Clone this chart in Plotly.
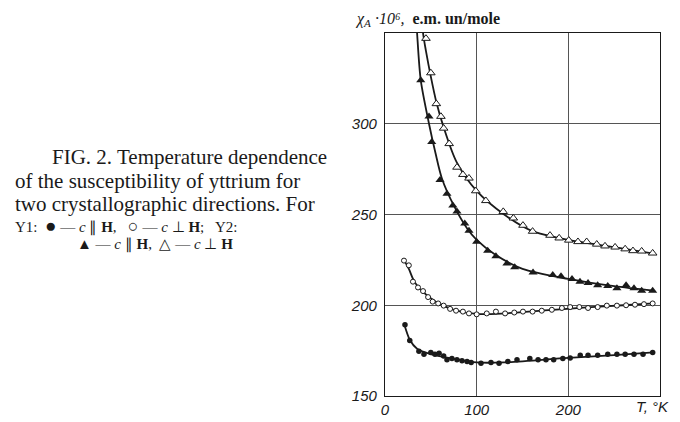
import plotly.graph_objects as go

# ---- data ----
# Y1, c || H (filled circles)
y1_par_T = [21.8, 27, 37, 42.5, 50, 54.5, 59, 64, 67.6, 73, 78.5, 84, 89.5, 94, 104.7, 115.6, 124.4,
            134, 144, 158, 167, 175.6, 184, 194, 202, 213, 221.5, 232, 243, 253, 262, 271.6, 281.5, 292]
y1_par_chi = [189.3, 180.6, 174.6, 173, 174, 173, 173.5, 172, 170, 170.6, 170, 169.4, 169, 168.4, 168, 168.4, 168,
              169, 170, 170.6, 170, 170, 170, 170.6, 171, 172.5, 172.5, 172.5, 173, 173, 173, 173, 173, 174]
# Y1, c perp H (open circles)
y1_perp_T = [20.7, 26, 30.5, 36, 41.5, 47, 52, 58, 64, 71, 77.5, 85, 91.6, 100, 111, 121, 131, 141, 150.5,
             161, 171, 182, 193, 202, 212, 221.5, 232, 242, 253, 263, 272.7, 282.5, 292]
y1_perp_chi = [224.6, 222, 213, 209.8, 207.8, 204.5, 202, 201, 199.8, 198, 197, 196.5, 195.5, 195, 195.5, 196.5,
               195.5, 196, 196.5, 196.5, 197, 197.5, 198.5, 199, 199, 198.5, 199, 199.8, 199.8, 200, 200.3, 200.6, 201]
# Y2, c || H (filled triangles)
y2_par_T = [39, 48, 51, 60, 67.6, 74, 78.5, 87, 91.6, 100, 112, 121, 133, 141.5, 161.5, 183, 192, 204,
            212.7, 221.5, 232, 243, 253, 263, 271.6, 280, 292]
y2_par_chi = [324, 304, 290, 269, 261.5, 255, 251.6, 245, 241, 235, 230, 227, 223, 221, 218, 216.7, 216, 214.5,
              212.9, 212.3, 211, 210.6, 209.4, 211, 209.4, 208, 208]
# Y2, c perp H (open triangles)
y2_perp_T = [44.7, 50, 56, 61, 64, 70, 78.5, 85, 91.6, 99, 110, 129, 140, 150.5, 161, 180, 190, 200.5,
             210.5, 220, 231, 240, 251, 262, 270.5, 280, 292]
y2_perp_chi = [347, 328, 311, 304, 297.5, 289, 276, 272, 270, 263, 257.6, 251.6, 248, 244, 240.7, 238.5, 237,
               235.8, 235, 235, 233.6, 232.6, 232, 231, 230, 229.8, 228.7]

# hand-drawn smooth curves
c1_T = [21, 27, 35, 50, 75, 100, 130, 200, 250, 293]
c1_chi = [189.5, 181, 176, 173, 170.5, 168.5, 168.5, 171, 172.5, 174]
c2_T = [20.7, 26, 32, 40, 55, 75, 100, 130, 170, 220, 260, 293]
c2_chi = [225, 220, 213, 208, 202, 197.5, 195.2, 195.5, 197, 198.8, 200, 201]
c3_T = [33.5, 35, 39, 48, 55, 62, 75, 90, 100, 120, 150, 200, 250, 293]
c3_chi = [362, 350, 324, 300, 284, 270, 255, 242, 236, 228, 220, 214.5, 210.5, 208]
c4_T = [40.5, 41.5, 44.7, 50, 56, 64, 78, 100, 130, 160, 200, 250, 293]
c4_chi = [360, 350, 340, 326, 312, 298, 279, 263, 250, 241, 236, 232, 228.5]

x_tickvals = [0, 100, 200, 300]
x_ticktext = ["0", "100", "200", ""]
x_unit_label = "T, °K"
y_tickvals = [150, 200, 250, 300]
y_ticktext = ["150", "200", "250", "300"]

INK = "#1a1a1a"
W, H = 680, 422
OFF = 8  # page body margin offset
# target plot area in window pixels: x 385..660, y 33..399
L = 385 - OFF
T = 33 - OFF
R = W - (660 - OFF)
B = H - (399 - OFF)
PW, PH = W - L - R, H - T - B

def px(x):
    return (x - OFF - L) / PW

def py(y):
    return (H - B - (y - OFF)) / PH

fig = go.Figure()
for cx, cy in [(c1_T, c1_chi), (c2_T, c2_chi), (c3_T, c3_chi), (c4_T, c4_chi)]:
    fig.add_trace(go.Scatter(x=cx, y=cy, mode="lines", line=dict(color=INK, width=1.8, shape="spline", smoothing=0.8),
                             hoverinfo="skip", showlegend=False))

fig.add_trace(go.Scatter(x=y1_par_T, y=y1_par_chi, mode="markers",
                         marker=dict(symbol="circle", size=5.5, color=INK), showlegend=False))
fig.add_trace(go.Scatter(x=y1_perp_T, y=y1_perp_chi, mode="markers",
                         marker=dict(symbol="circle", size=5, color="white", line=dict(color=INK, width=1)), showlegend=False))
fig.add_trace(go.Scatter(x=y2_par_T, y=y2_par_chi, mode="markers",
                         marker=dict(symbol="triangle-up", size=8, color=INK), showlegend=False))
fig.add_trace(go.Scatter(x=y2_perp_T, y=y2_perp_chi, mode="markers",
                         marker=dict(symbol="triangle-up", size=7.5, color="white", line=dict(color=INK, width=1)), showlegend=False))

tickfont = dict(family="Liberation Sans", size=15, color=INK, style="italic")
fig.update_xaxes(range=[0, 300], tickvals=x_tickvals, ticktext=x_ticktext,
                 showgrid=True, gridcolor="#555",
                 gridwidth=1, showline=True, linecolor=INK, linewidth=1.3, mirror=True, ticks="", zeroline=False,
                 tickfont=tickfont)
fig.update_yaxes(range=[150, 350], tickvals=y_tickvals, ticktext=y_ticktext,
                 showgrid=True, gridcolor="#555",
                 gridwidth=1, showline=True, linecolor=INK, linewidth=1.3, mirror=True, ticks="", zeroline=False,
                 tickfont=tickfont, ticklabelstandoff=4)

annots = []
annots.append(dict(x=px(652), y=py(410), xref="paper", yref="paper", xanchor="center", yanchor="middle",
                   showarrow=False, text=x_unit_label, font=tickfont))
annots.append(dict(x=px(353), y=py(19), xref="paper", yref="paper", xanchor="left", yanchor="middle", showarrow=False,
                   text="<i>χ<sub>A</sub> ·10⁶,</i>  <b>e.m. un/mole</b>",
                   font=dict(family="Liberation Serif", size=16, color=INK)))
serif = dict(family="Liberation Serif", size=21, color=INK)
cap_lines = [(50, 158, "FIG. 2. Temperature dependence"),
             (13, 182, "of the susceptibility of yttrium for"),
             (13, 205, "two crystallographic directions. For")]
for x0, y0, t in cap_lines:
    annots.append(dict(x=px(x0), y=py(y0), xref="paper", yref="paper", xanchor="left", yanchor="middle",
                       showarrow=False, text=t, font=serif))
small = dict(family="Liberation Serif", size=15, color=INK)
annots.append(dict(x=px(13), y=py(227), xref="paper", yref="paper", xanchor="left", yanchor="middle", showarrow=False,
                   text="Y1:  <span style='font-size:19px'>●</span> — <i>c</i> ∥ <b>H</b>,   <span style='font-size:18px'>○</span> — <i>c</i> ⊥ <b>H</b>;   Y2:",
                   font=small))
annots.append(dict(x=px(75), y=py(246), xref="paper", yref="paper", xanchor="left", yanchor="middle", showarrow=False,
                   text="▲ — <i>c</i> ∥ <b>H</b>,  △ — <i>c</i> ⊥ <b>H</b>", font=small))

fig.update_layout(width=W, height=H, margin=dict(l=L, r=R, t=T, b=B), paper_bgcolor="white", plot_bgcolor="white",
                  annotations=annots, showlegend=False)
fig.write_html("out.html")
